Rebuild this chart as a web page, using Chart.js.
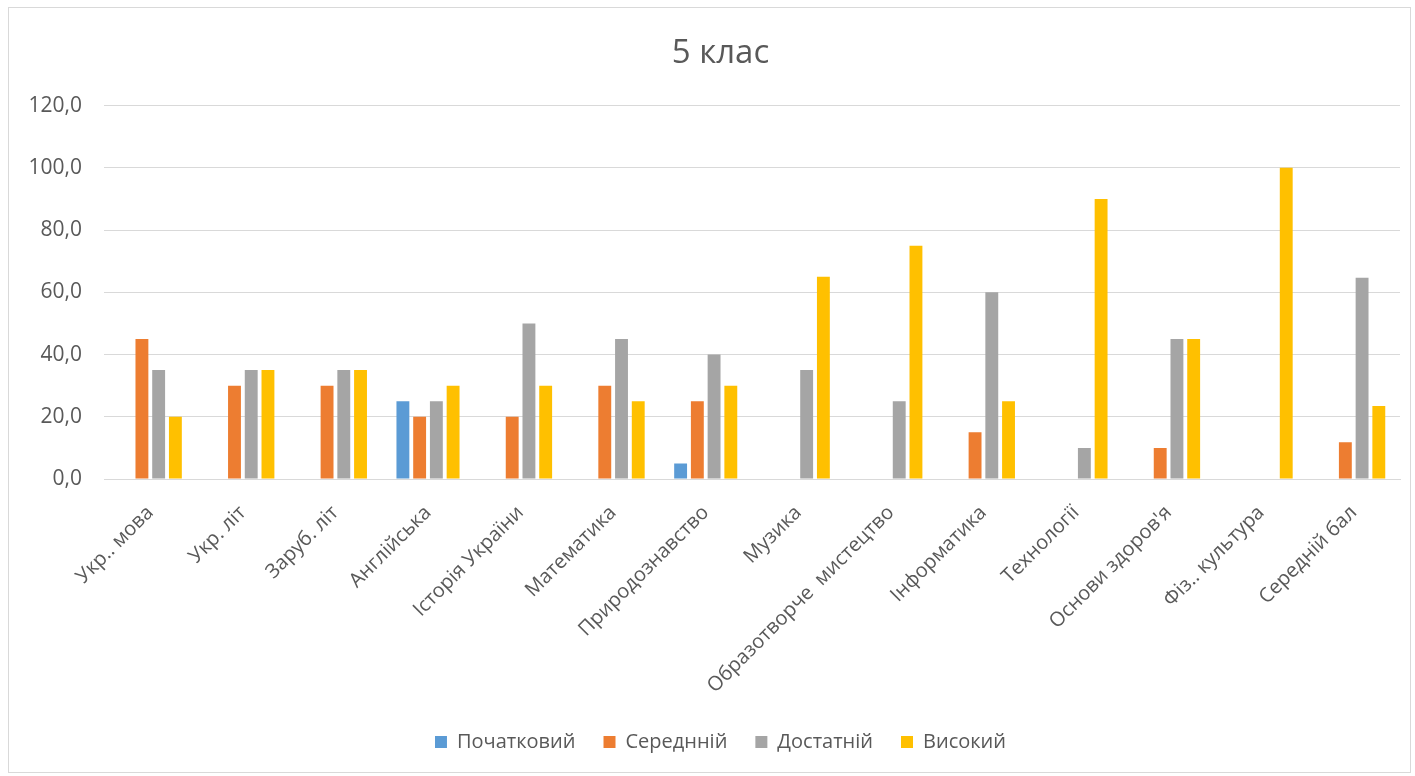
<!DOCTYPE html>
<html>
<head>
<meta charset="utf-8">
<script src="https://cdn.jsdelivr.net/npm/chart.js@4/dist/chart.umd.min.js"></script>
<style>
  body { margin: 0; background: #fff; overflow: hidden; }
  #box {
    position: absolute; left: 8px; top: 7px;
    width: 1401px; height: 764px;
    border: 1px solid #d9d9d9;
    overflow: hidden;
  }
  /* wider than the frame so title and legend sit a bit right of centre, like in Excel */
  #wrap { position: relative; width: 1433px; height: 764px; }
</style>
</head>
<body>
<div id="box"><div id="wrap"><canvas id="chart"></canvas></div></div>
<script>
// Categories (subjects)
const subjects = [
  'Укр.. мова', 'Укр. літ', 'Заруб. літ', 'Англійська', 'Історія України',
  'Математика', 'Природознавство', 'Музика', 'Образотворче  мистецтво',
  'Інформатика', 'Технології', "Основи здоров'я", 'Фіз.. культура', 'Середній бал'
];

// Series values (% of pupils per level)
const pochatkovyi = [0, 0, 0, 25, 0, 0, 5, 0, 0, 0, 0, 0, 0, 0];
const serednii    = [45, 30, 30, 20, 20, 30, 25, 0, 0, 15, 0, 10, 0, 11.8];
const dostatnii   = [35, 35, 35, 25, 50, 45, 40, 35, 25, 60, 10, 45, 0, 64.7];
const vysokyi     = [20, 35, 35, 30, 30, 25, 30, 65, 75, 25, 90, 45, 100, 23.5];

const seriesNames = ['Початковий', 'Середнній', 'Достатній', 'Високий'];
const seriesColors = ['#5B9BD5', '#ED7D31', '#A5A5A5', '#FFC000'];

const FONT = "'Open Sans', sans-serif";
const TEXT = '#595959';

new Chart(document.getElementById('chart'), {
  type: 'bar',
  data: {
    labels: subjects,
    datasets: [pochatkovyi, serednii, dostatnii, vysokyi].map((d, i) => ({
      label: seriesNames[i],
      data: d,
      backgroundColor: seriesColors[i],
      borderWidth: 0,
      categoryPercentage: 0.723,
      barPercentage: 0.77
    }))
  },
  options: {
    responsive: true,
    maintainAspectRatio: false,
    animation: false,
    layout: { padding: { left: 0, right: 10, top: 0, bottom: 10 } },
    plugins: {
      title: {
        display: true,
        text: '5 клас',
        color: TEXT,
        font: { family: FONT, size: 33, weight: 'normal' },
        padding: { top: 26, bottom: 32 }
      },
      legend: {
        position: 'bottom',
        labels: {
          color: TEXT,
          font: { family: FONT, size: 20 },
          boxWidth: 12,
          boxHeight: 12,
          padding: 28
        }
      },
      tooltip: { enabled: false }
    },
    scales: {
      x: {
        grid: { display: false },
        border: { color: '#d9d9d9' },
        ticks: {
          color: TEXT,
          font: { family: FONT, size: 20 },
          minRotation: 45,
          maxRotation: 45,
          autoSkip: false,
          padding: 14
        },
        afterFit: s => { s.height = 225; }
      },
      y: {
        min: 0,
        max: 120,
        grid: { color: '#d9d9d9', drawTicks: false },
        border: { display: false },
        ticks: {
          stepSize: 20,
          color: TEXT,
          font: { family: FONT, size: 21 },
          padding: 22,
          callback: v => v.toFixed(1).replace('.', ',')
        },
        afterFit: s => { s.width = 95; }
      },
      // empty spacer on the right, keeps the plot inside the frame
      spacer: {
        position: 'right',
        grid: { display: false },
        border: { display: false },
        ticks: { display: false },
        afterFit: s => { s.width = 32; }
      }
    }
  }
});
</script>
</body>
</html>
